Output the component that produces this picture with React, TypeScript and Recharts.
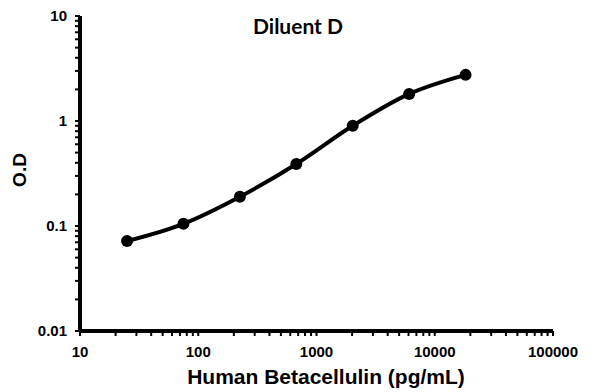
import React from 'react';
import { LineChart, Line, XAxis, YAxis } from 'recharts';

// Standard curve, 3-fold dilutions
const concentrations = [25, 75, 225, 675, 2025, 6075, 18225];
const odValues = [0.072, 0.105, 0.19, 0.39, 0.9, 1.81, 2.75];

const xMajorTicks = [10, 100, 1000, 10000, 100000];
const yMajorTicks = [0.01, 0.1, 1, 10];
const minorSteps = [2, 3, 4, 5, 6, 7, 8, 9];

const withMinor = (majors: number[]) =>
  majors.flatMap((m, i) =>
    i < majors.length - 1 ? [m, ...minorSteps.map((s) => +(m * s).toPrecision(3))] : [m]
  );

const data = concentrations.map((c, i) => ({ conc: c, od: odValues[i] }));

const FONT = '"Liberation Sans", Arial, sans-serif';

const XTick = ({ x, y, payload }: any) => {
  const major = xMajorTicks.includes(payload.value);
  return (
    <g>
      <line x1={x} x2={x} y1={y} y2={y + 5} stroke="#000" strokeWidth={2} />
      {major && (
        <text x={x} y={y + 26} textAnchor="middle" fontFamily={FONT} fontWeight="bold" fontSize={15} fill="#000">
          {payload.value}
        </text>
      )}
    </g>
  );
};

const YTick = ({ x, y, payload }: any) => {
  const major = yMajorTicks.includes(payload.value);
  return (
    <g>
      <line x1={x} x2={x - 5} y1={y} y2={y} stroke="#000" strokeWidth={2} />
      {major && (
        <text x={x - 13} y={y + 5} textAnchor="end" fontFamily={FONT} fontWeight="bold" fontSize={15} fill="#000">
          {payload.value}
        </text>
      )}
    </g>
  );
};

export default function App() {
  return (
    <div style={{ position: 'relative', width: 588, height: 384, background: '#fff' }}>
      <LineChart width={588} height={384} data={data} margin={{ top: 8, right: 43, left: 0, bottom: 31 }}>
        <XAxis
          dataKey="conc"
          type="number"
          scale="log"
          domain={[10, 100000]}
          ticks={withMinor(xMajorTicks)}
          interval={0}
          allowDataOverflow
          height={30}
          tickSize={0}
          tickMargin={0}
          tickLine={false}
          axisLine={{ stroke: '#000', strokeWidth: 4 }}
          tick={<XTick />}
        />
        <YAxis
          dataKey="od"
          type="number"
          scale="log"
          domain={[0.01, 10]}
          ticks={withMinor(yMajorTicks)}
          interval={0}
          allowDataOverflow
          width={72}
          tickSize={0}
          tickMargin={0}
          tickLine={false}
          axisLine={{ stroke: '#000', strokeWidth: 4 }}
          tick={<YTick />}
        />
        <Line
          type="monotone"
          dataKey="od"
          stroke="#000"
          strokeWidth={4}
          dot={{ r: 6, fill: '#000', stroke: '#000', strokeWidth: 0 }}
          isAnimationActive={false}
        />
      </LineChart>

      {/* titre et axes */}
      <div
        style={{
          position: 'absolute', left: 190, width: 200, top: 6, textAlign: 'center',
          fontFamily: 'Lato, sans-serif', fontWeight: 'bold', fontSize: 21, lineHeight: '24px',
        }}
      >
        Diluent D
      </div>
      <div
        style={{
          position: 'absolute', left: 118, width: 400, top: 357, textAlign: 'center',
          fontFamily: FONT, fontWeight: 'bold', fontSize: 21, lineHeight: '24px',
        }}
      >
        Human Betacellulin (pg/mL)
      </div>
      <div
        style={{
          position: 'absolute', left: -38, width: 100, top: 150, textAlign: 'center',
          transform: 'rotate(-90deg)',
          fontFamily: FONT, fontWeight: 'bold', fontSize: 19, lineHeight: '24px',
        }}
      >
        O.D
      </div>
    </div>
  );
}
